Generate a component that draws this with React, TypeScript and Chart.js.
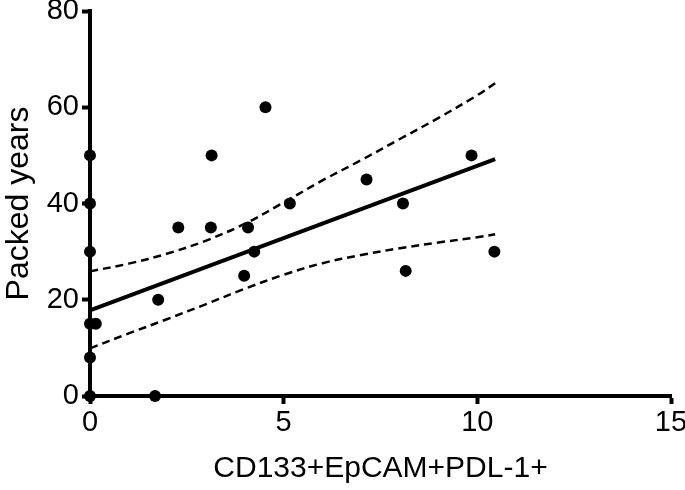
import React, { useEffect, useRef } from "react";
import { Chart, registerables } from "chart.js";

Chart.register(...registerables);

// Scatter data (CD133+EpCAM+PDL-1+ vs Packed years)
const xValues = [0, 0, 0, 0, 0, 0, 0.15, 1.68, 1.76, 2.28, 3.12, 3.14, 4.53, 4.08, 3.98, 4.24, 5.16, 7.14, 8.08, 8.15, 9.85, 10.44];
const yValues = [50, 40, 30, 15, 8, 0, 15, 0, 20, 35, 35, 50, 60, 35, 25, 30, 40, 45, 40, 26, 50, 30];

// Regression line end points
const fitX = [0, 10.46];
const fitY = [17.8, 49.2];

// Confidence band
const ciX = [0, 1, 2, 3, 4, 5, 6, 7, 8, 9, 10, 10.46];
const ciUpper = [25.9, 27.5, 29.6, 32.3, 35.8, 40.2, 44.8, 49.0, 53.4, 57.8, 62.5, 65.0];
const ciLower = [9.9, 13.0, 16.0, 19.1, 22.3, 25.2, 27.6, 29.3, 30.7, 31.9, 33.0, 33.6];

const xTicks = [0, 5, 10, 15];
const yTicks = [0, 20, 40, 60, 80];

const FONT = "'Liberation Sans', Arial, sans-serif";

export default function App() {
  const ref = useRef<HTMLCanvasElement | null>(null);

  useEffect(() => {
    document.body.style.margin = "0";
    if (!ref.current) return;
    const pts = xValues.map((x, i) => ({ x, y: yValues[i] }));
    const fit = fitX.map((x, i) => ({ x, y: fitY[i] }));
    const up = ciX.map((x, i) => ({ x, y: ciUpper[i] }));
    const lo = ciX.map((x, i) => ({ x, y: ciLower[i] }));

    const dashed = {
      showLine: true,
      borderColor: "#000",
      borderWidth: 2.5,
      borderDash: [8, 5],
      pointRadius: 0,
      tension: 0.35,
      clip: false,
    };

    const chart = new Chart(ref.current, {
      type: "scatter",
      data: {
        datasets: [
          { data: up, ...dashed } as any,
          { data: lo, ...dashed } as any,
          {
            data: fit,
            showLine: true,
            borderColor: "#000",
            borderWidth: 4,
            pointRadius: 0,
            clip: false,
          } as any,
          {
            data: pts,
            backgroundColor: "#000",
            borderColor: "#000",
            pointRadius: 6,
            pointBorderWidth: 0,
            clip: false,
          } as any,
        ],
      },
      options: {
        animation: false,
        responsive: true,
        maintainAspectRatio: false,
        layout: { padding: { top: 11, right: 14, left: 0, bottom: 0 } },
        plugins: { legend: { display: false }, tooltip: { enabled: false } },
        scales: {
          x: {
            type: "linear",
            min: 0,
            max: 15,
            afterBuildTicks: (s: any) => {
              s.ticks = xTicks.map((v) => ({ value: v }));
            },
            afterFit: (s: any) => {
              s.height = 94;
              s.paddingLeft = 0;
              s.paddingRight = 0;
            },
            border: { display: true, color: "#000", width: 4 },
            grid: {
              drawOnChartArea: false,
              drawTicks: true,
              tickLength: 8,
              tickWidth: 4,
              tickColor: "#000",
              color: "#000",
            },
            ticks: {
              color: "#000",
              padding: 2,
              maxRotation: 0,
              font: { family: FONT, size: 29 },
            },
            title: {
              display: true,
              text: "CD133+EpCAM+PDL-1+",
              color: "#000",
              font: { family: FONT, size: 30 },
              padding: { top: 0, bottom: 3 },
            },
          },
          y: {
            type: "linear",
            min: 0,
            max: 80,
            afterBuildTicks: (s: any) => {
              s.ticks = yTicks.map((v) => ({ value: v }));
            },
            afterFit: (s: any) => {
              s.width = 90;
              s.paddingTop = 0;
              s.paddingBottom = 0;
            },
            border: { display: true, color: "#000", width: 4 },
            grid: {
              drawOnChartArea: false,
              drawTicks: true,
              tickLength: 8,
              tickWidth: 4,
              tickColor: "#000",
              color: "#000",
            },
            ticks: {
              color: "#000",
              padding: 3,
              font: { family: FONT, size: 29 },
            },
            title: {
              display: true,
              text: "Packed years",
              color: "#000",
              font: { family: FONT, size: 32 },
              padding: { top: 0, bottom: 0 },
            },
          },
        },
      },
    });
    return () => chart.destroy();
  }, []);

  return (
    <div style={{ position: "relative", width: 685, height: 490 }}>
      <canvas ref={ref} />
    </div>
  );
}
